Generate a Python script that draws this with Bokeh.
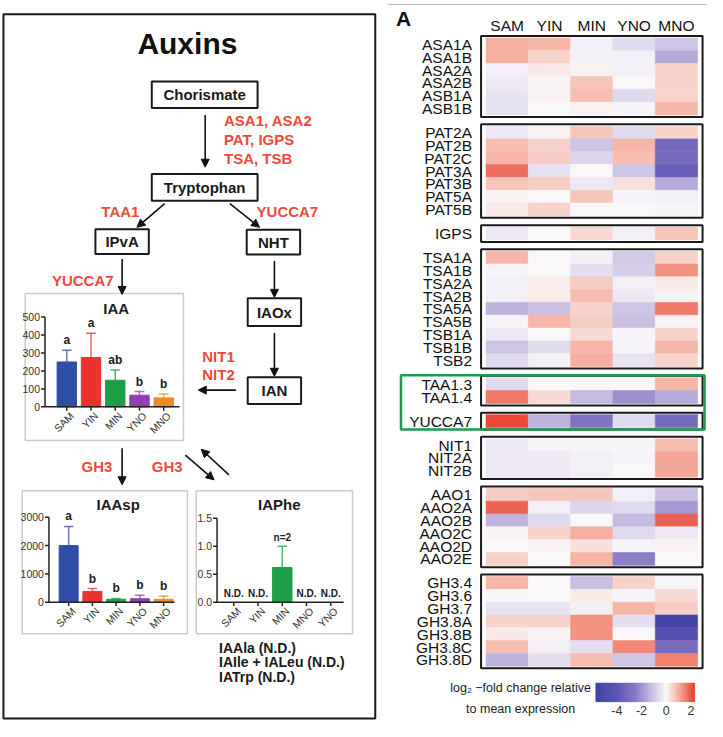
import numpy as np
from bokeh.plotting import figure
from bokeh.models import Range1d, Arrow, NormalHead, LinearColorMapper, ColumnDataSource
from bokeh.core.properties import value
from bokeh.embed import file_html
from bokeh.resources import INLINE

FONT = "Liberation Sans"
RED = "#ee4a3b"
INK = "#1a1a1a"

# ---------------- data: bar charts ----------------
samples = ["SAM", "YIN", "MIN", "YNO", "MNO"]
bar_colors = ["#2f4fa6", "#e8342f", "#1f9e48", "#8e3fb0", "#f08a24"]

iaa_mean = [250, 275, 148, 65, 50]
iaa_err = [65, 135, 57, 20, 22]
iaa_letters = ["a", "a", "ab", "b", "b"]
iaa_ticks = [0, 100, 200, 300, 400, 500]
iaa_tick_labels = ["0", "100", "200", "300", "400", "500"]

iaasp_mean = [2000, 380, 100, 120, 100]
iaasp_err = [680, 100, 30, 120, 120]
iaasp_letters = ["a", "b", "b", "b", "b"]
iaasp_ticks = [0, 1000, 2000, 3000]
iaasp_tick_labels = ["0", "1000", "2000", "3000"]

iaphe_cats = ["SAM", "YIN", "MIN", "MNO", "YNO"]
iaphe_colors = ["#2f4fa6", "#e8342f", "#1f9e48", "#f08a24", "#8e3fb0"]
iaphe_mean = [None, None, 0.62, None, None]
iaphe_err = [None, None, 0.38, None, None]
iaphe_letters = ["N.D.", "N.D.", "n=2", "N.D.", "N.D."]
iaphe_ticks = [0.0, 0.5, 1.0, 1.5]
iaphe_tick_labels = ["0.0", "0.5", "1.0", "1.5"]

# ---------------- data: heatmap ----------------
genes = ["ASA1A", "ASA1B", "ASA2A", "ASA2B", "ASB1A", "ASB1B",
         "PAT2A", "PAT2B", "PAT2C", "PAT3A", "PAT3B", "PAT5A", "PAT5B",
         "IGPS",
         "TSA1A", "TSA1B", "TSA2A", "TSA2B", "TSA5A", "TSA5B", "TSB1A", "TSB1B", "TSB2",
         "TAA1.3", "TAA1.4",
         "YUCCA7",
         "NIT1", "NIT2A", "NIT2B",
         "AAO1", "AAO2A", "AAO2B", "AAO2C", "AAO2D", "AAO2E",
         "GH3.4", "GH3.6", "GH3.7", "GH3.8A", "GH3.8B", "GH3.8C", "GH3.8D"]
group_sizes = [6, 7, 1, 9, 2, 1, 3, 6, 7]

hm_sam = [1.0, 1.0, -0.2, -0.3, -0.4, -0.4,
          -0.3, 0.8, 0.9, 1.7, 0.7, 0.05, 0.2,
          -0.3,
          0.9, -0.1, -0.2, -0.2, -1.3, -0.1, -0.3, -1.0, -0.6,
          -0.6, 1.6,
          2.1,
          -0.3, -0.3, -0.3,
          0.6, 1.8, -1.3, 0.05, 0.0, 0.5,
          0.9, -0.05, -0.4, 0.5, 0.2, 0.8, -1.3]
hm_yin = [0.9, 0.5, 0.2, 0.05, 0.1, 0.0,
          0.1, 0.5, 0.6, -0.4, 0.6, 0.0, 0.5,
          0.0,
          0.0, 0.0, 0.15, 0.15, -1.1, 0.9, 0.0, -0.6, -0.2,
          0.0, 0.4,
          -1.3,
          -0.1, -0.3, -0.3,
          0.7, -0.2, -0.6, 0.5, 0.1, 0.0,
          0.0, 0.0, -0.4, 0.5, 0.05, -0.2, -0.5]
hm_min = [-0.2, -0.2, 0.1, 0.7, 0.8, 0.1,
          0.7, -1.0, -0.7, 0.0, -0.3, 0.7, 0.0,
          0.4,
          -0.2, -0.5, 0.6, 0.8, 0.5, 0.6, 0.4, 0.9, 1.0,
          0.0, -1.2,
          -2.6,
          -0.1, -0.2, -0.2,
          0.7, -0.7, 0.0, 1.0, 0.3, 0.9,
          -1.1, 0.2, -0.2, 1.3, 1.3, -0.5, 0.8]
hm_yno = [-0.6, -0.2, -0.2, 0.0, -0.6, -0.1,
          -0.6, 0.9, 0.8, -1.0, 0.3, -0.1, 0.0,
          -0.2,
          -0.9, -0.8, -0.2, -0.3, -1.0, -1.1, -0.1, -0.1, -0.4,
          0.0, -2.0,
          -0.6,
          -0.1, -0.1, 0.0,
          -0.2, -0.6, -1.2, -0.6, -0.1, -2.3,
          0.5, -0.1, 0.9, -0.5, 0.0, 1.4, -1.0]
hm_mno = [-1.0, -1.5, 0.5, 0.5, 0.5, 0.9,
          0.5, -3.0, -3.0, -3.5, -1.5, -0.2, -0.1,
          0.7,
          0.5, 1.3, 0.2, 0.1, 1.6, -0.1, 0.5, 0.9, 0.5,
          0.9, -1.5,
          -3.0,
          0.8, 1.1, 1.1,
          -1.1, -1.8, 1.8, -0.3, 0.1, 0.0,
          -0.05, 0.4, 0.6, -5.0, -4.0, -2.8, 1.5]
cb_ticks = [-4, -2, 0, 2]
cb_tick_labels = ["-4", "-2", "0", "2"]

# ---------------- diagram content ----------------
node_names = ["Chorismate", "Tryptophan", "IPvA", "NHT", "IAOx", "IAN"]
node_x = [207.5, 207.5, 124, 277, 278, 278]
node_y = [101.5, 195.5, 250.5, 251, 322, 401.5]
node_w = [107, 107, 54, 54, 54, 54]
node_h = [27, 27, 25, 25, 28, 27]

arrows = [(208, 122, 208, 175), (167, 212, 139, 236), (233, 212, 263, 236),
          (124, 268, 124, 304), (278, 270, 278, 307), (278, 343, 278, 387),
          (239, 401, 201, 401), (124, 460, 124, 497), (188, 467, 217, 492),
          (232, 487, 204, 461)]

red_labels = ["ASA1, ASA2", "PAT, IGPS", "TSA, TSB", "TAA1", "YUCCA7", "YUCCA7",
              "NIT1", "NIT2", "GH3", "GH3"]
red_x = [227, 227, 227, 103, 260, 53, 205, 205, 83, 154]
red_y = [128, 147, 166, 220, 220, 290, 367, 385, 478, 478]

# ---------------- figure ----------------
p = figure(width=707, height=721, x_range=Range1d(1, 716), y_range=Range1d(737, 6),
           output_backend="svg", toolbar_location=None, min_border=0,
           x_axis_location=None, y_axis_location=None)
p.xgrid.grid_line_color = None
p.ygrid.grid_line_color = None
p.outline_line_color = None
p.background_fill_color = "white"
p.border_fill_color = "white"


def txt(g, x, y, t, size, align="center", baseline="middle", bold=False, color=INK, **kw):
    g.text(x=x, y=y, text=t, text_font=value(FONT), text_font_size=size,
           text_font_style="bold" if bold else "normal", text_color=color,
           text_align=align, text_baseline=baseline, **kw)


# outer frame of left panel
p.quad(left=[4], right=[380], top=[20], bottom=[734], fill_alpha=0, line_color=INK, line_width=2)
txt(p, [190], [50], ["Auxins"], "30px", bold=True, color="#111")

# nodes
p.rect(x=node_x, y=node_y, width=node_w, height=node_h, fill_color="white",
       line_color=INK, line_width=2)
txt(p, node_x, node_y, node_names, "15px", bold=True)

for (x0, y0, x1, y1) in arrows:
    p.add_layout(Arrow(end=NormalHead(size=8, line_color="#111", fill_color="#111"),
                       x_start=x0, y_start=y0, x_end=x1, y_end=y1,
                       line_color="#111", line_width=1.6))

txt(p, red_x, red_y, red_labels, "15px", align="left", bold=True, color=RED)

# chart frames
p.quad(left=[26, 23, 199], right=[186, 190, 357], top=[303, 503, 503],
       bottom=[452, 648, 648], fill_color="white", line_color="#cccccc", line_width=1.5)
txt(p, [118, 120, 283], [318, 517, 517], ["IAA", "IAAsp", "IAPhe"], "15px", bold=True)

txt(p, [222, 222, 222], [662, 677, 692],
    ["IAAla (N.D.)", "IAIle + IALeu (N.D.)", "IATrp (N.D.)"], "14px", align="left", bold=True)


def bar_panel(xs, ys, xt, yt, cats, means, errs, colors, letters, ticks, tick_labels, letter_size="11px"):
    sub = p.subplot(x_source=Range1d(*xs), y_source=Range1d(*ys),
                    x_target=Range1d(*xt), y_target=Range1d(*yt))
    ux = (xs[1] - xs[0]) / (xt[1] - xt[0])
    uy = (ys[1] - ys[0]) / abs(yt[1] - yt[0])
    idx = list(range(len(cats)))
    have = [i for i in idx if means[i] is not None]
    hx = [idx[i] for i in have]
    hm_ = [means[i] for i in have]
    he = [means[i] + errs[i] for i in have]
    hc = [colors[i] for i in have]
    sub.vbar(x=hx, top=hm_, bottom=0, width=0.8, fill_color=hc, line_color=hc)
    sub.segment(x0=hx, y0=hm_, x1=hx, y1=he, line_color=hc, line_width=1.5, line_alpha=0.75)
    sub.segment(x0=[v - 0.2 for v in hx], y0=he, x1=[v + 0.2 for v in hx], y1=he,
                line_color=hc, line_width=1.5, line_alpha=0.75)
    ly = [(means[i] + errs[i]) if means[i] is not None else 0 for i in idx]
    txt(sub, idx, ly, letters, letter_size, baseline="bottom", bold=True, y_offset=-3)
    # axes
    x0 = xs[0]
    sub.segment(x0=[x0], y0=[0], x1=[x0], y1=[ys[1]], line_color="#222", line_width=1.5)
    sub.segment(x0=[x0], y0=[0], x1=[xs[1]], y1=[0], line_color="#222", line_width=1.5)
    sub.segment(x0=[x0 - 4 * ux] * len(ticks), y0=ticks, x1=[x0] * len(ticks), y1=ticks,
                line_color="#222", line_width=1.5)
    sub.segment(x0=idx, y0=[0] * len(idx), x1=idx, y1=[-4 * uy] * len(idx),
                line_color="#222", line_width=1.5)
    txt(sub, [x0] * len(ticks), ticks, tick_labels, "10.5px", align="right",
        color="#333", x_offset=-5)
    txt(sub, idx, [0] * len(idx), cats, "10.5px", align="right", color="#333",
        angle=np.pi / 4, x_offset=5, y_offset=7)
    return sub


bar_panel((-0.9, 4.65), (0, 500), (46, 182), (418, 327), samples, iaa_mean, iaa_err,
          bar_colors, iaa_letters, iaa_ticks, iaa_tick_labels, letter_size="12px")
bar_panel((-0.83, 4.46), (0, 3000), (50, 177), (616, 530), samples, iaasp_mean, iaasp_err,
          bar_colors, iaasp_letters, iaasp_ticks, iaasp_tick_labels, letter_size="12px")
bar_panel((-0.69, 4.53), (0, 1.5), (220, 348), (616, 531), iaphe_cats, iaphe_mean, iaphe_err,
          iaphe_colors, iaphe_letters, iaphe_ticks, iaphe_tick_labels, letter_size="10px")

# ---------------- heatmap ----------------
LOW, HIGH = -5.7, 2.3
anch_v = [-5.7, -4.0, -2.5, -1.0, 0.0, 1.0, 2.3]
anch_c = [(55, 60, 160), (88, 80, 176), (132, 116, 196), (206, 196, 229),
          (250, 248, 250), (245, 176, 160), (232, 55, 40)]
grid = np.linspace(LOW, HIGH, 256)
palette = []
for g in grid:
    rgb = [int(round(np.interp(g, anch_v, [c[k] for c in anch_c]))) for k in range(3)]
    palette.append("#%02x%02x%02x" % tuple(rgb))
mapper = LinearColorMapper(palette=palette, low=LOW, high=HIGH)

GAP = 0.875
row_pos = []
group_bounds = []
r = 0
for gi, n in enumerate(group_sizes):
    start = r + gi * GAP
    for k in range(n):
        row_pos.append(r + gi * GAP)
        r += 1
    group_bounds.append((start, r + gi * GAP))
T = r + (len(group_sizes) - 1) * GAP

hm = p.subplot(x_source=Range1d(-0.5, 4.5), y_source=Range1d(0, T),
               x_target=Range1d(492, 706), y_target=Range1d(44, 681))
cols = [hm_sam, hm_yin, hm_min, hm_yno, hm_mno]
cx, cy, cv = [], [], []
for ci, col in enumerate(cols):
    for ri, v in enumerate(col):
        cx.append(ci)
        cy.append(row_pos[ri] + 0.5)
        cv.append(v)
src = ColumnDataSource(dict(x=cx, y=cy, v=cv))
hm.rect(x="x", y="y", width=1, height=1, source=src,
        fill_color={"field": "v", "transform": mapper},
        line_color={"field": "v", "transform": mapper}, line_width=0.6)
px_x = 1 / 42.8
px_y = T / (681 - 44)
hm.quad(left=[-0.5 - 5 * px_x] * len(group_bounds), right=[4.5 + 5 * px_x] * len(group_bounds),
        top=[b[0] - 2 * px_y for b in group_bounds], bottom=[b[1] + 2 * px_y for b in group_bounds],
        fill_alpha=0, line_color=INK, line_width=2)
txt(hm, [-0.5] * len(genes), [v + 0.5 for v in row_pos], genes, "15.5px", align="right",
    color="#111", x_offset=-14)
txt(hm, list(range(5)), [0] * 5, samples, "15.5px", color="#111", y_offset=-12)

# highlight box around TAA1 / YUCCA7
p.quad(left=[406], right=[713], top=[386], bottom=[441], fill_alpha=0,
       line_color="#1e9a4e", line_width=2.5)

# panel letter and top rule
p.segment(x0=[393], y0=[10], x1=[723], y1=[10], line_color="#bbbbbb", line_width=1)
txt(p, [401], [24], ["A"], "21px", align="left", bold=True, color="#111")

# colour bar
cb = p.subplot(x_source=Range1d(LOW, HIGH), y_source=Range1d(0, 1),
               x_target=Range1d(603, 703), y_target=Range1d(698, 717))
edges = np.linspace(LOW, HIGH, 121)
mids = (edges[:-1] + edges[1:]) / 2
cb_src = ColumnDataSource(dict(left=edges[:-1], right=edges[1:], v=mids,
                               top=np.zeros(len(mids)), bottom=np.ones(len(mids))))
cb.quad(left="left", right="right", top="top", bottom="bottom", source=cb_src,
        fill_color={"field": "v", "transform": mapper},
        line_color={"field": "v", "transform": mapper}, line_width=0.5)
txt(cb, cb_ticks, [1] * len(cb_ticks), cb_tick_labels, "12.5px", baseline="top",
    color="#333", y_offset=4)
txt(p, [527, 527], [703, 724], ["log\u2082 \u2212fold change relative", "to mean expression"],
    "12.5px", color="#222")

open("out.html", "w").write(file_html(p, INLINE))
